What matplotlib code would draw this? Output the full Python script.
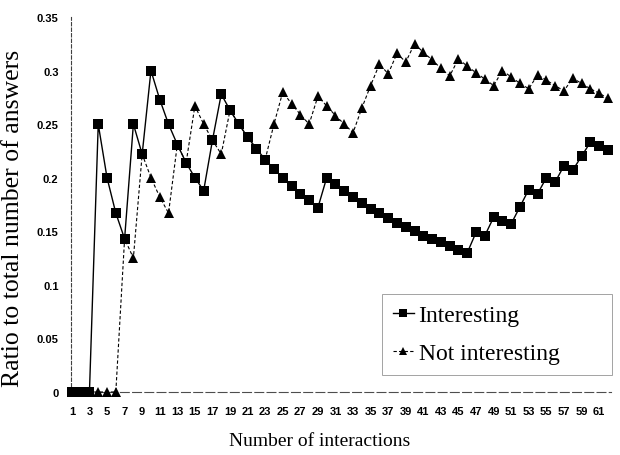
import matplotlib
matplotlib.use("Agg")
import matplotlib.pyplot as plt
import numpy as np

# interaction number (x axis)
interactions = list(range(1, 63))

# ratio of "interesting" answers
interesting = [0, 0, 0, 0.25, 0.20, 0.167, 0.143, 0.25, 0.222, 0.30,
               0.273, 0.25, 0.231, 0.214, 0.20, 0.188, 0.235, 0.278, 0.263, 0.25,
               0.238, 0.227, 0.217, 0.208, 0.20, 0.192, 0.185, 0.179, 0.172, 0.20,
               0.194, 0.188, 0.182, 0.176, 0.171, 0.167, 0.162, 0.158, 0.154, 0.15,
               0.146, 0.143, 0.140, 0.136, 0.133, 0.130, 0.149, 0.146, 0.163, 0.16,
               0.157, 0.173, 0.189, 0.185, 0.20, 0.196, 0.211, 0.207, 0.220, 0.233,
               0.230, 0.226]

# ratio of "not interesting" answers
not_interesting = [0, 0, 0, 0, 0, 0, 0.143, 0.125, 0.222, 0.20,
                   0.182, 0.167, 0.231, 0.214, 0.267, 0.25, 0.235, 0.222, 0.263, 0.25,
                   0.238, 0.227, 0.217, 0.25, 0.28, 0.269, 0.259, 0.25, 0.276, 0.267,
                   0.258, 0.25, 0.242, 0.265, 0.286, 0.306, 0.297, 0.316, 0.308, 0.325,
                   0.317, 0.310, 0.302, 0.295, 0.311, 0.304, 0.298, 0.292, 0.286, 0.30,
                   0.294, 0.288, 0.283, 0.296, 0.291, 0.286, 0.281, 0.293, 0.288, 0.283,
                   0.279, 0.274]

xtick_vals = list(range(1, 62, 2))
ytick_vals = [0, 0.05, 0.1, 0.15, 0.2, 0.25, 0.3, 0.35]
ytick_labels = ["0", "0.05", "0.1", "0.15", "0.2", "0.25", "0.3", "0.35"]

W, H = 620, 456
fig = plt.figure(figsize=(W / 100, H / 100), dpi=100)
ax = fig.add_axes([71 / W, 63 / H, (610.5 - 71) / W, (393 - 18) / H])

# draw "not interesting" first so squares sit on top where values coincide
ax.plot(interactions, not_interesting, color="black", lw=0.8, ls=(0, (3, 2)),
        marker="^", markersize=7.5, markeredgewidth=0, label="Not interesting",
        clip_on=False, zorder=3)
ax.plot(interactions, interesting, color="black", lw=1.0, ls="-",
        marker="s", markersize=7, markeredgewidth=0, label="Interesting",
        clip_on=False, zorder=4)

ax.set_xlim(0.9, 62.3)
ax.set_ylim(0, 0.35)

ax.set_xticks(xtick_vals)
ax.set_xticklabels([str(v) for v in xtick_vals])
ax.set_yticks(ytick_vals)
ax.set_yticklabels(ytick_labels)
ax.tick_params(axis="both", length=0, labelsize=8)
ax.tick_params(axis="x", pad=10)
ax.tick_params(axis="y", pad=9)
for lab in ax.get_xticklabels() + ax.get_yticklabels():
    lab.set_fontfamily("Liberation Sans")
    lab.set_fontweight("bold")

for side in ["top", "right"]:
    ax.spines[side].set_visible(False)
ax.spines["left"].set_linestyle((0, (3, 2)))
ax.spines["left"].set_linewidth(0.8)
ax.spines["left"].set_color("0.25")
ax.spines["bottom"].set_linestyle((0, (8, 3)))
ax.spines["bottom"].set_linewidth(0.8)
ax.spines["bottom"].set_color("0.3")

ax.set_xlabel("Number of interactions", fontfamily="Liberation Serif",
              fontsize=14, va="center")
ax.xaxis.set_label_coords((320 - 71) / 539.5, (393 - 442) / 375)
ax.set_ylabel("Ratio to total number of answers", fontfamily="Liberation Serif",
              fontsize=18.5, va="center")
ax.yaxis.set_label_coords((13 - 71) / 539.5, (393 - 218) / 375)

handles, labels = ax.get_legend_handles_labels()
leg = ax.legend(handles[::-1], labels[::-1], loc="upper left",
                bbox_to_anchor=(382 / W, (H - 295) / H, (612 - 382) / W, 0),
                bbox_transform=fig.transFigure, mode="expand", borderaxespad=0,
                prop={"family": "Liberation Serif", "size": 17},
                frameon=True, fancybox=False, handlelength=0.9,
                handletextpad=0.2, labelspacing=0.7, borderpad=0.45,
                markerscale=0.8)
leg.get_frame().set_edgecolor("0.55")
leg.get_frame().set_linewidth(0.7)

fig.savefig("out.png", dpi=100)
